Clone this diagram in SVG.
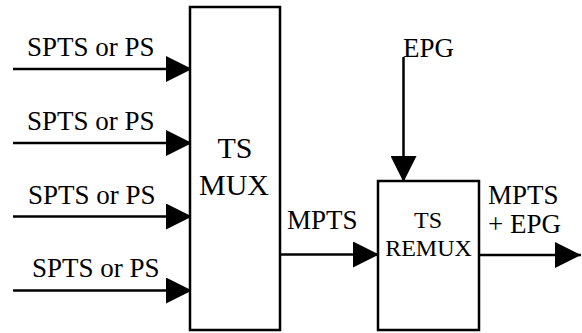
<svg xmlns="http://www.w3.org/2000/svg" width="582" height="333" viewBox="0 0 582 333">
  <defs>
    <marker id="head" markerUnits="userSpaceOnUse" markerWidth="26" markerHeight="26" refX="26" refY="13" orient="auto">
      <path d="M0,0 L26,13 L0,26 Z" fill="#000"/>
    </marker>
    <style>
      .box { fill: #fff; stroke: #000; stroke-width: 2.5; }
      .wire { fill: none; stroke: #000; stroke-width: 2.5; marker-end: url(#head); }
      text { font-family: "Liberation Serif", "Times New Roman", serif; fill: #000; }
      .lbl { font-size: 27px; }
    </style>
  </defs>
  <rect width="582" height="333" fill="#fff"/>

  <g id="connectors">
    <line class="wire" x1="13" y1="69" x2="192" y2="69"/>
    <line class="wire" x1="13" y1="143" x2="192" y2="143"/>
    <line class="wire" x1="13" y1="216.5" x2="192" y2="216.5"/>
    <line class="wire" x1="13" y1="290.5" x2="192" y2="290.5"/>
    <line class="wire" x1="281" y1="254.5" x2="379" y2="254.5"/>
    <line class="wire" x1="403.5" y1="57" x2="403.5" y2="182"/>
    <line class="wire" x1="479" y1="255" x2="581" y2="255"/>
  </g>

  <g id="input-labels">
    <text class="lbl" x="27" y="56">SPTS or PS</text>
    <text class="lbl" x="27" y="130">SPTS or PS</text>
    <text class="lbl" x="28" y="204">SPTS or PS</text>
    <text class="lbl" x="32" y="277">SPTS or PS</text>
  </g>

  <g id="ts-mux">
    <rect class="box" x="190" y="7" width="90" height="323"/>
    <text x="235" y="158" font-size="30" text-anchor="middle">TS</text>
    <text x="234" y="195" font-size="30" text-anchor="middle">MUX</text>
  </g>

  <g id="ts-remux">
    <rect class="box" x="378" y="181" width="101" height="149"/>
    <text x="428" y="228" font-size="24" text-anchor="middle">TS</text>
    <text x="428.5" y="256" font-size="24" text-anchor="middle">REMUX</text>
  </g>

  <g id="flow-labels">
    <text class="lbl" x="287" y="229">MPTS</text>
    <text class="lbl" x="403" y="57">EPG</text>
    <text class="lbl" x="488" y="204">MPTS</text>
    <text class="lbl" x="488" y="233">+ EPG</text>
  </g>
</svg>
